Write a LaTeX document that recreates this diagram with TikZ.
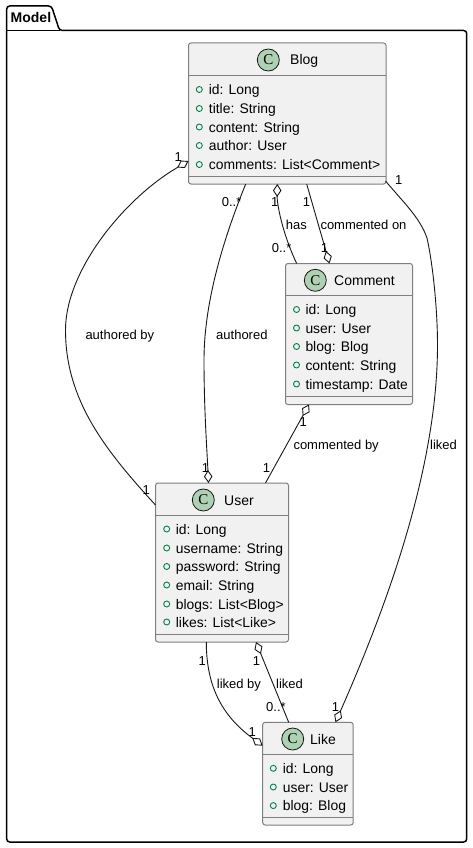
\documentclass[tikz,border=0pt]{standalone}
\usepackage{fontspec}
\setmainfont{Liberation Sans}
\newfontfamily\spotfont{Liberation Serif}
\usetikzlibrary{arrows.meta}
\definecolor{boxfill}{HTML}{F1F1F1}
\definecolor{boxline}{HTML}{7F7F7F}
\definecolor{edgeline}{HTML}{181818}
\definecolor{spotfill}{HTML}{ADD1B2}
\definecolor{fieldgreen}{HTML}{038048}
\tikzset{
  classbox/.style={draw=boxline,fill=boxfill,line width=1pt,rounded corners=2.5pt,anchor=north west,inner sep=0pt,outer sep=0pt},
  divider/.style={draw=boxline,line width=1pt},
  spot/.style={circle,draw=edgeline,line width=.8pt,fill=spotfill,minimum size=22pt,inner sep=0pt,font=\fontsize{15}{15}\selectfont\spotfont},
  classname/.style={anchor=base west,inner sep=0pt,font=\fontsize{14}{16}\selectfont,text=black},
  member/.style={anchor=base west,inner sep=0pt,font=\fontsize{13.9}{16}\selectfont,text=black},
  marker/.style={circle,draw=fieldgreen,line width=.9pt,minimum size=6pt,inner sep=0pt},
  edgelabel/.style={anchor=base west,inner sep=0pt,font=\fontsize{13}{15}\selectfont,text=black},
  rel/.style={draw=edgeline,line width=.9pt},
  dia/.tip={Diamond[fill=white,length=13pt,width=8.5pt,line width=.9pt]}
}
\newcommand{\memb}[5]{%
  \node[marker] (#1m) at (#2,#4) {};
  \node[member] (#1t) at (#3,#4+5) {#5};}
\newcommand{\lab}[4]{\node[edgelabel] (#1) at (#2,#3+4.7) {#4};}
\begin{document}
\begin{tikzpicture}[x=1pt,y=-1pt]
\useasboundingbox (0,0) rectangle (472,848);
\fill[white] (0,0) rectangle (472,848);
% package
\draw[line width=1.5pt,rounded corners=3pt,black]
  (6.7,30.5) -- (6.7,6) -- (51.5,6) -- (59.5,30.5) -- (466.7,30.5) -- (466.7,842) -- (6.7,842) -- cycle;
\draw[line width=1.5pt,black] (6.7,30.5) -- (59.5,30.5);
\node[anchor=base west,inner sep=0pt,font=\fontsize{14}{16}\selectfont\bfseries] (pkg) at (10.5,23) {Model};
% Blog
\node[classbox,minimum width=197.5pt,minimum height=141pt] (blog) at (188.5,43) {};
\draw[divider] (188.5,75.5) -- (386,75.5);
\draw[divider] (188.5,176.5) -- (386,176.5);
\node[spot] (blogc) at (268.3,60) {C};
\node[classname] (blogn) at (290,65) {Blog};
\memb{b1}{199.3}{208.7}{89.5}{id: Long}
\memb{b2}{199.3}{208.7}{108.5}{title: String}
\memb{b3}{199.3}{208.7}{127}{content: String}
\memb{b4}{199.3}{208.7}{145.5}{author: User}
\memb{b5}{199.3}{208.7}{164.5}{comments: List<Comment>}
% Comment
\node[classbox,minimum width=127pt,minimum height=141pt] (comment) at (285.5,263.5) {};
\draw[divider] (285.5,295.5) -- (412.5,295.5);
\draw[divider] (285.5,396.5) -- (412.5,396.5);
\node[spot] (commentc) at (315.3,280.3) {C};
\node[classname] (commentn) at (334,285.3) {Comment};
\memb{c1}{296.5}{305.3}{309.5}{id: Long}
\memb{c2}{296.5}{305.3}{328}{user: User}
\memb{c3}{296.5}{305.3}{346.5}{blog: Blog}
\memb{c4}{296.5}{305.3}{365}{content: String}
\memb{c5}{296.5}{305.3}{384}{timestamp: Date}
% User
\node[classbox,minimum width=133pt,minimum height=159pt] (user) at (155.5,483) {};
\draw[divider] (155.5,515.5) -- (288.5,515.5);
\draw[divider] (155.5,634.5) -- (288.5,634.5);
\node[spot] (userc) at (203.3,500) {C};
\node[classname] (usern) at (224,505) {User};
\memb{u1}{166.7}{175.7}{529}{id: Long}
\memb{u2}{166.7}{175.7}{548}{username: String}
\memb{u3}{166.7}{175.7}{566.5}{password: String}
\memb{u4}{166.7}{175.7}{585}{email: String}
\memb{u5}{166.7}{175.7}{604}{blogs: List<Blog>}
\memb{u6}{166.7}{175.7}{622}{likes: List<Like>}
% Like
\node[classbox,minimum width=90.5pt,minimum height=102.7pt] (like) at (262.7,722.3) {};
\draw[divider] (262.7,754.7) -- (353.2,754.7);
\draw[divider] (262.7,817.3) -- (353.2,817.3);
\node[spot] (likec) at (292.7,739) {C};
\node[classname] (liken) at (310,744) {Like};
\memb{l1}{273.3}{282.7}{768.3}{id: Long}
\memb{l2}{273.3}{282.7}{787}{user: User}
\memb{l3}{273.3}{282.7}{805.6}{blog: Blog}
% connectors
\draw[rel,{dia}-] ([yshift=-47.5pt]blog.west)
  .. controls (125,198) and (65.5,270) .. (65.5,330)
  .. controls (65.5,400) and (105,450) .. ([yshift=57.5pt]user.west);
\draw[rel,-{dia}] ([xshift=57.2pt]blog.south west)
  .. controls (225,235) and (204,300) .. (204,360)
  .. controls (204,410) and (207,450) .. ([xshift=53pt]user.north west);
\draw[rel,{dia}-] ([xshift=88.8pt]blog.south west)
  .. controls (277,205) and (283,235) .. ([xshift=11.2pt]comment.north west);
\draw[rel,-{dia}] ([xshift=118.2pt]blog.south west) -- ([xshift=44pt]comment.north west);
\draw[rel,{dia}-] ([xshift=23.5pt]comment.south west) -- ([xshift=110pt]user.north west);
\draw[rel,-{dia}] ([xshift=-.5pt,yshift=3pt]blog.south east)
  .. controls (405,204) and (420,218) .. (427,238)
  .. controls (433,265) and (437.5,310) .. (437.5,345)
  .. controls (437.5,470) and (385,610) .. ([xshift=72.8pt]like.north west);
\draw[rel,-{dia}] ([xshift=50.8pt]user.south west)
  .. controls (206.3,690) and (225,718) .. ([yshift=28pt]like.west);
\draw[rel,{dia}-] ([xshift=100.5pt]user.south west) -- ([xshift=26pt]like.north west);
% labels
\lab{e1}{85.3}{335}{authored by}
\lab{e2}{216}{335}{authored}
\lab{e3}{285.7}{225}{has}
\lab{e4}{320.3}{225}{commented on}
\lab{e5}{293.3}{444.7}{commented by}
\lab{e6}{430}{444.7}{liked}
\lab{e7}{216.7}{683.7}{liked by}
\lab{e8}{276}{683.7}{liked}
\lab{n1}{174.5}{156.7}{1}
\lab{n2}{221.7}{201.5}{0..*}
\lab{n3}{271}{202}{1}
\lab{n4}{302.7}{202}{1}
\lab{n5}{271.7}{247.7}{0..*}
\lab{n6}{320.7}{247.3}{1}
\lab{n7}{395}{179.3}{1}
\lab{n8}{299.3}{421.7}{1}
\lab{n9}{262.7}{467.3}{1}
\lab{n10}{201.7}{467.3}{1}
\lab{n11}{142.3}{490}{1}
\lab{n12}{198.3}{660.7}{1}
\lab{n13}{252.7}{660.7}{1}
\lab{n14}{266}{706.7}{0..*}
\lab{n15}{248.3}{731.7}{1}
\lab{n16}{331.7}{706.7}{1}
\end{tikzpicture}
\end{document}
